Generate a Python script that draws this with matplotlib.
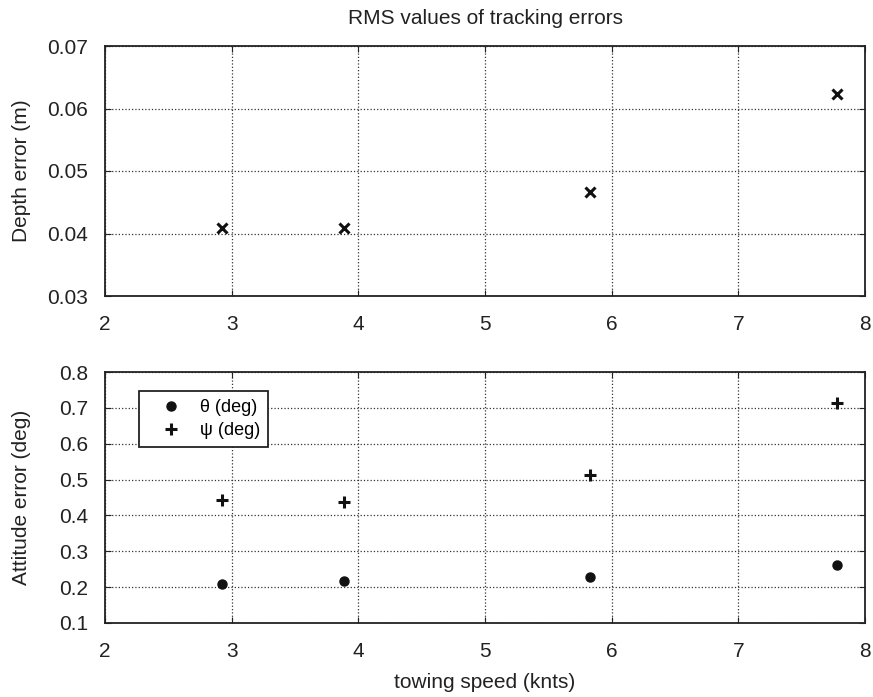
import matplotlib
matplotlib.use('Agg')
import matplotlib.pyplot as plt

plt.rcParams['font.family'] = ['Liberation Sans', 'DejaVu Sans']

# towing speeds (1.5, 2, 3, 4 m/s expressed in knots)
speed_knts = [2.92, 3.89, 5.83, 7.78]

# RMS tracking errors
depth_err = [0.0409, 0.0409, 0.0466, 0.0624]
theta_err = [0.210, 0.216, 0.229, 0.261]
psi_err = [0.443, 0.438, 0.513, 0.713]

x_ticks = [2, 3, 4, 5, 6, 7, 8]
depth_ticks = [0.03, 0.04, 0.05, 0.06, 0.07]
att_ticks = [0.1, 0.2, 0.3, 0.4, 0.5, 0.6, 0.7, 0.8]

fig = plt.figure(figsize=(8.73, 6.97), dpi=100)
ax1 = fig.add_axes([105 / 873, 1 - 296 / 697, 760 / 873, 250 / 697])
ax2 = fig.add_axes([105 / 873, 1 - 623 / 697, 760 / 873, 251 / 697])


def style_axes(ax):
    ax.set_xlim(2, 8)
    ax.set_xticks(x_ticks)
    ax.grid(True, linestyle=':', color='#333333', linewidth=0.9)
    ax.tick_params(direction='in', top=True, right=True, length=4,
                   labelsize=15, colors='#222222')
    ax.tick_params(axis='x', pad=14)
    ax.tick_params(axis='y', pad=12)
    ax.yaxis.set_label_coords(-0.097, 0.5)
    for sp in ax.spines.values():
        sp.set_linewidth(1.3)
        sp.set_color('#222222')


ax1.plot(speed_knts, depth_err, 'x', color='#111111', markersize=7, mew=2.2)
ax1.set_ylim(0.03, 0.07)
ax1.set_yticks(depth_ticks)
ax1.set_yticklabels([f'{v:.2f}' for v in depth_ticks])
ax1.set_ylabel('Depth error (m)', fontsize=15, color='#222222')
ax1.set_title('RMS values of tracking errors', fontsize=15, pad=16,
              color='#222222')
style_axes(ax1)

ax2.plot(speed_knts, theta_err, 'o', color='#111111', markersize=6.5,
         label='\u03b8 (deg)')
ax2.plot(speed_knts, psi_err, '+', color='#111111', markersize=9, mew=2.2,
         label='\u03c8 (deg)')
ax2.set_ylim(0.1, 0.8)
ax2.set_yticks(att_ticks)
ax2.set_yticklabels([f'{v:.1f}' for v in att_ticks])
ax2.set_ylabel('Attitude error (deg)', fontsize=15, color='#222222')
ax2.set_xlabel('towing speed (knts)', fontsize=15, labelpad=8,
               color='#222222')
style_axes(ax2)

leg = ax2.legend(loc='upper left', bbox_to_anchor=(0.045, 0.925), fontsize=13,
                 fancybox=False, edgecolor='#222222', framealpha=1,
                 borderaxespad=0, handlelength=2.6, handletextpad=0.3,
                 borderpad=0.45, labelspacing=0.35)
leg.get_frame().set_linewidth(1.3)

fig.savefig('out.png', dpi=100)
